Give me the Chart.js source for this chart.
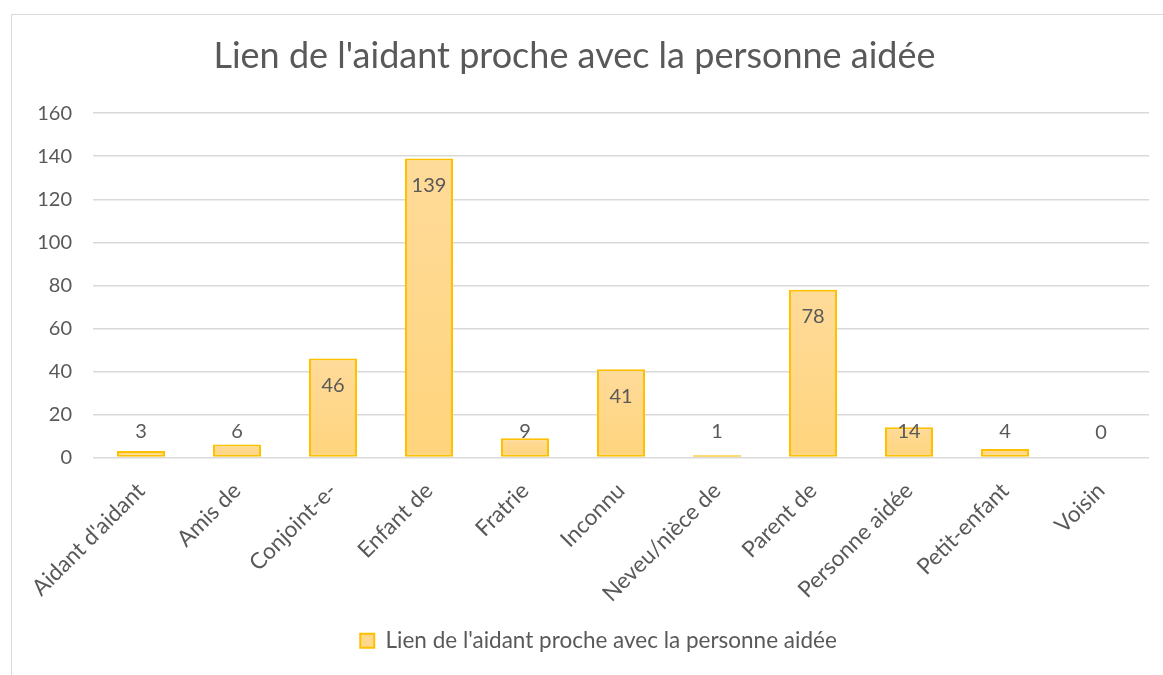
<!DOCTYPE html>
<html>
<head>
    <title>Lien de l'aidant proche</title>
    <meta charset="utf-8">
    <style>
        body { margin: 0; background: #fff; overflow: hidden; }
        #frame { position: absolute; left: 11px; top: 14px; width: 1200px; height: 700px;
                 border-left: 1px solid #d9d9d9; border-top: 1px solid #d9d9d9; }
        #chart { position: absolute; left: 0; top: 0; }
    </style>
</head>
<body>
    <div id="frame"></div>
    <canvas id="chart" width="1163" height="675"></canvas>

    <script src="https://cdn.jsdelivr.net/npm/chart.js"></script>
    <script>
        var categories = ["Aidant d'aidant", 'Amis de', 'Conjoint-e-', 'Enfant de', 'Fratrie', 'Inconnu',
                          'Neveu/nièce de', 'Parent de', 'Personne aidée', 'Petit-enfant', 'Voisin'];
        var counts = [3, 6, 46, 139, 9, 41, 1, 78, 14, 4, 0];
        var seriesName = "Lien de l'aidant proche avec la personne aidée";
        var yTicks = [0, 20, 40, 60, 80, 100, 120, 140, 160];

        var FONT = 'Lato';
        var GREY = '#595959';

        // value labels: inside the top of tall bars, above short ones
        var valueLabels = {
            id: 'valueLabels',
            afterDatasetsDraw: function(chart) {
                var ctx = chart.ctx;
                var meta = chart.getDatasetMeta(0);
                ctx.save();
                ctx.font = '20px ' + FONT;
                ctx.fillStyle = GREY;
                ctx.textAlign = 'center';
                ctx.textBaseline = 'middle';
                meta.data.forEach(function(bar, i) {
                    var y = Math.min(bar.y + 27, bar.base - 25);
                    ctx.fillText(counts[i], bar.x, y);
                });
                ctx.restore();
            }
        };

        // the legend sits a bit right of centre in the original
        var legendShift = {
            id: 'legendShift',
            afterLayout: function(chart) {
                chart.legend.left += 24;
                chart.legend.right += 24;
            }
        };

        function barFill(c) {
            var chart = c.chart;
            if (!chart.chartArea || c.raw === undefined) return '#ffd88c';
            var top = chart.scales.y.getPixelForValue(c.raw);
            var bottom = chart.scales.y.getPixelForValue(0);
            if (bottom - top < 1) return '#ffd88c';
            var g = chart.ctx.createLinearGradient(0, top, 0, bottom);
            g.addColorStop(0, '#ffdb9a');
            g.addColorStop(1, '#ffd47c');
            return g;
        }

        new Chart(document.getElementById('chart').getContext('2d'), {
            type: 'bar',
            data: {
                labels: categories,
                datasets: [{
                    label: seriesName,
                    data: counts,
                    backgroundColor: barFill,
                    borderColor: '#ffc000',
                    borderWidth: function(c) { return c.raw === 0 ? 0 : 2; },
                    borderSkipped: false,
                    categoryPercentage: 1,
                    barPercentage: 0.5
                }]
            },
            options: {
                responsive: false,
                animation: false,
                layout: { padding: { left: 0, right: 14, top: 0, bottom: 13 } },
                plugins: {
                    title: {
                        display: true,
                        text: seriesName,
                        color: GREY,
                        font: { family: FONT, size: 36, weight: 'normal' },
                        padding: { top: 35, bottom: 35 }
                    },
                    legend: {
                        position: 'bottom',
                        labels: {
                            color: GREY,
                            font: { family: FONT, size: 22.5 },
                            boxWidth: 14,
                            boxHeight: 14,
                            padding: 10,
                            generateLabels: function(chart) {
                                return [{
                                    text: seriesName,
                                    fillStyle: '#ffd88c',
                                    strokeStyle: '#ffc000',
                                    lineWidth: 2,
                                    fontColor: GREY,
                                    datasetIndex: 0
                                }];
                            }
                        }
                    },
                    tooltip: { enabled: false }
                },
                scales: {
                    x: {
                        grid: { display: false },
                        border: { display: false },
                        ticks: {
                            color: GREY,
                            font: { family: FONT, size: 22.5 },
                            minRotation: 45,
                            maxRotation: 45,
                            padding: 12
                        },
                        afterFit: function(scale) { scale.height = 162; }
                    },
                    y: {
                        min: 0,
                        max: 160,
                        afterBuildTicks: function(scale) {
                            scale.ticks = yTicks.map(function(v) { return { value: v }; });
                        },
                        grid: { color: '#d9d9d9', lineWidth: 1.5, drawTicks: false },
                        border: { display: false },
                        ticks: {
                            color: GREY,
                            font: { family: FONT, size: 20 },
                            padding: 21
                        },
                        afterFit: function(scale) { scale.width = 93; }
                    }
                }
            },
            plugins: [valueLabels, legendShift]
        });
    </script>
</body>
</html>
